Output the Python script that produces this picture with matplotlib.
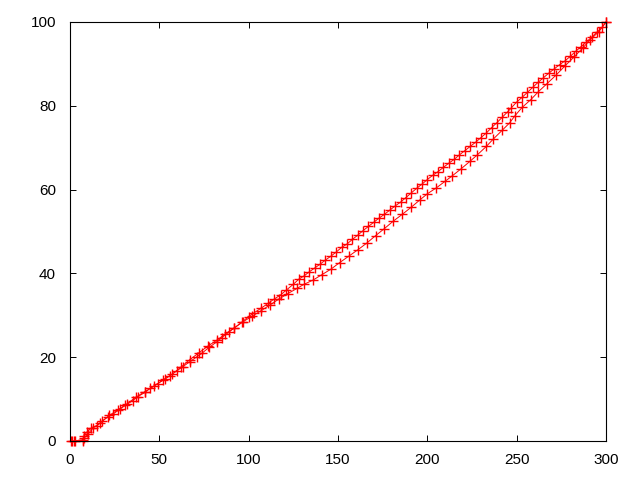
import matplotlib
matplotlib.use("Agg")
import matplotlib.pyplot as plt

# upper branch, going up
up_x = [0.5, 2, 7, 8, 9.5, 12, 15, 18, 21, 24, 28, 31, 35, 38, 42, 45, 49, 53, 56, 60,
        63, 67, 71, 74, 78, 82, 85, 89, 92, 96, 100, 103, 107, 111, 114, 118, 121, 125,
        128, 131, 134, 137, 140, 143, 146, 149, 152, 155, 158, 161, 164, 167, 170, 173,
        176, 179, 182, 185, 188, 191, 194, 197, 200, 203, 206, 209, 212, 215, 218, 221,
        224, 227, 230, 233, 236, 239, 242, 245, 247, 250, 253, 256, 259, 262, 265, 268,
        271, 274, 277, 280, 283, 286, 289, 292, 295, 298, 300]
up_y = [0, 0, 0.3, 1.2, 2.2, 3.1, 3.6, 4.8, 5.7, 6.4, 7.6, 8.5, 9.6, 10.6, 11.6, 12.6,
        13.7, 14.8, 15.6, 16.8, 17.7, 18.9, 20.1, 21.0, 22.4, 23.6, 24.7, 26.0, 27.0,
        28.3, 29.7, 30.6, 31.7, 32.9, 33.8, 34.9, 36.0, 37.4, 38.6, 39.4, 40.4, 41.3,
        42.2, 43.2, 44.1, 45.1, 46.2, 47.0, 48.1, 49.1, 50.2, 51.2, 52.2, 53.2, 54.1,
        55.1, 56.1, 57.0, 58.1, 59.2, 60.3, 61.3, 62.4, 63.4, 64.3, 65.3, 66.3, 67.2,
        68.3, 69.3, 70.3, 71.3, 72.4, 73.5, 74.8, 76.0, 77.3, 78.6, 79.5, 80.9, 82.0,
        83.2, 84.4, 85.6, 86.7, 87.8, 88.8, 89.8, 90.7, 91.8, 93.0, 94.1, 95.2, 96.4,
        97.6, 98.8, 100]

# lower branch, coming back down
down_x = [300, 296, 291, 287, 282, 277, 272, 267, 262, 258, 253, 249, 246, 242, 237, 233,
          228, 224, 219, 214, 210, 205, 200, 196, 191, 186, 181, 176, 171, 166, 161, 156,
          151, 146, 141, 136, 131, 127, 122, 117, 112, 107, 102, 97, 92, 87, 82, 77, 72,
          67, 62, 57, 52, 47, 42, 37, 32, 27, 22, 17, 13, 10, 8, 7, 3, 1]
down_y = [100, 97.7, 95.7, 93.8, 91.6, 89.5, 87.3, 85.3, 83.3, 81.5, 79.6, 77.6, 75.9,
          74.2, 72.1, 70.3, 68.3, 66.8, 65.0, 63.3, 62.0, 60.4, 59.0, 57.6, 55.8, 54.1,
          52.5, 50.7, 49.0, 47.2, 45.6, 44.1, 42.6, 41.0, 39.7, 38.4, 37.4, 36.4, 35.2,
          33.9, 32.5, 31.1, 29.8, 28.5, 27.0, 25.6, 24.0, 22.6, 21.0, 19.4, 17.6, 15.9,
          14.5, 13.1, 11.8, 10.5, 8.9, 7.5, 6.1, 4.3, 3.2, 1.6, 0.8, 0, 0, 0]

x_ticks = [0, 50, 100, 150, 200, 250, 300]
y_ticks = [0, 20, 40, 60, 80, 100]

plt.rcParams['font.family'] = ['Liberation Sans', 'DejaVu Sans']

fig = plt.figure(figsize=(6.4, 4.8), dpi=100)
ax = fig.add_axes([70 / 640, 39 / 480, 536 / 640, 419 / 480])

for xs, ys in [(up_x, up_y), (down_x, down_y)]:
    ax.plot(xs, ys, color='#ff0000', lw=0.7, marker='+', ms=6.5, mew=1.0,
            clip_on=False)

ax.set_xlim(0, 300)
ax.set_ylim(0, 100)
ax.set_xticks(x_ticks)
ax.set_yticks(y_ticks)
ax.tick_params(direction='in', top=True, right=True, length=4.5, width=0.7,
               labelsize=11, colors='black')
ax.tick_params(axis='x', pad=9)
ax.tick_params(axis='y', pad=10)
for s in ax.spines.values():
    s.set_linewidth(0.8)

fig.savefig("out.png", dpi=100)
